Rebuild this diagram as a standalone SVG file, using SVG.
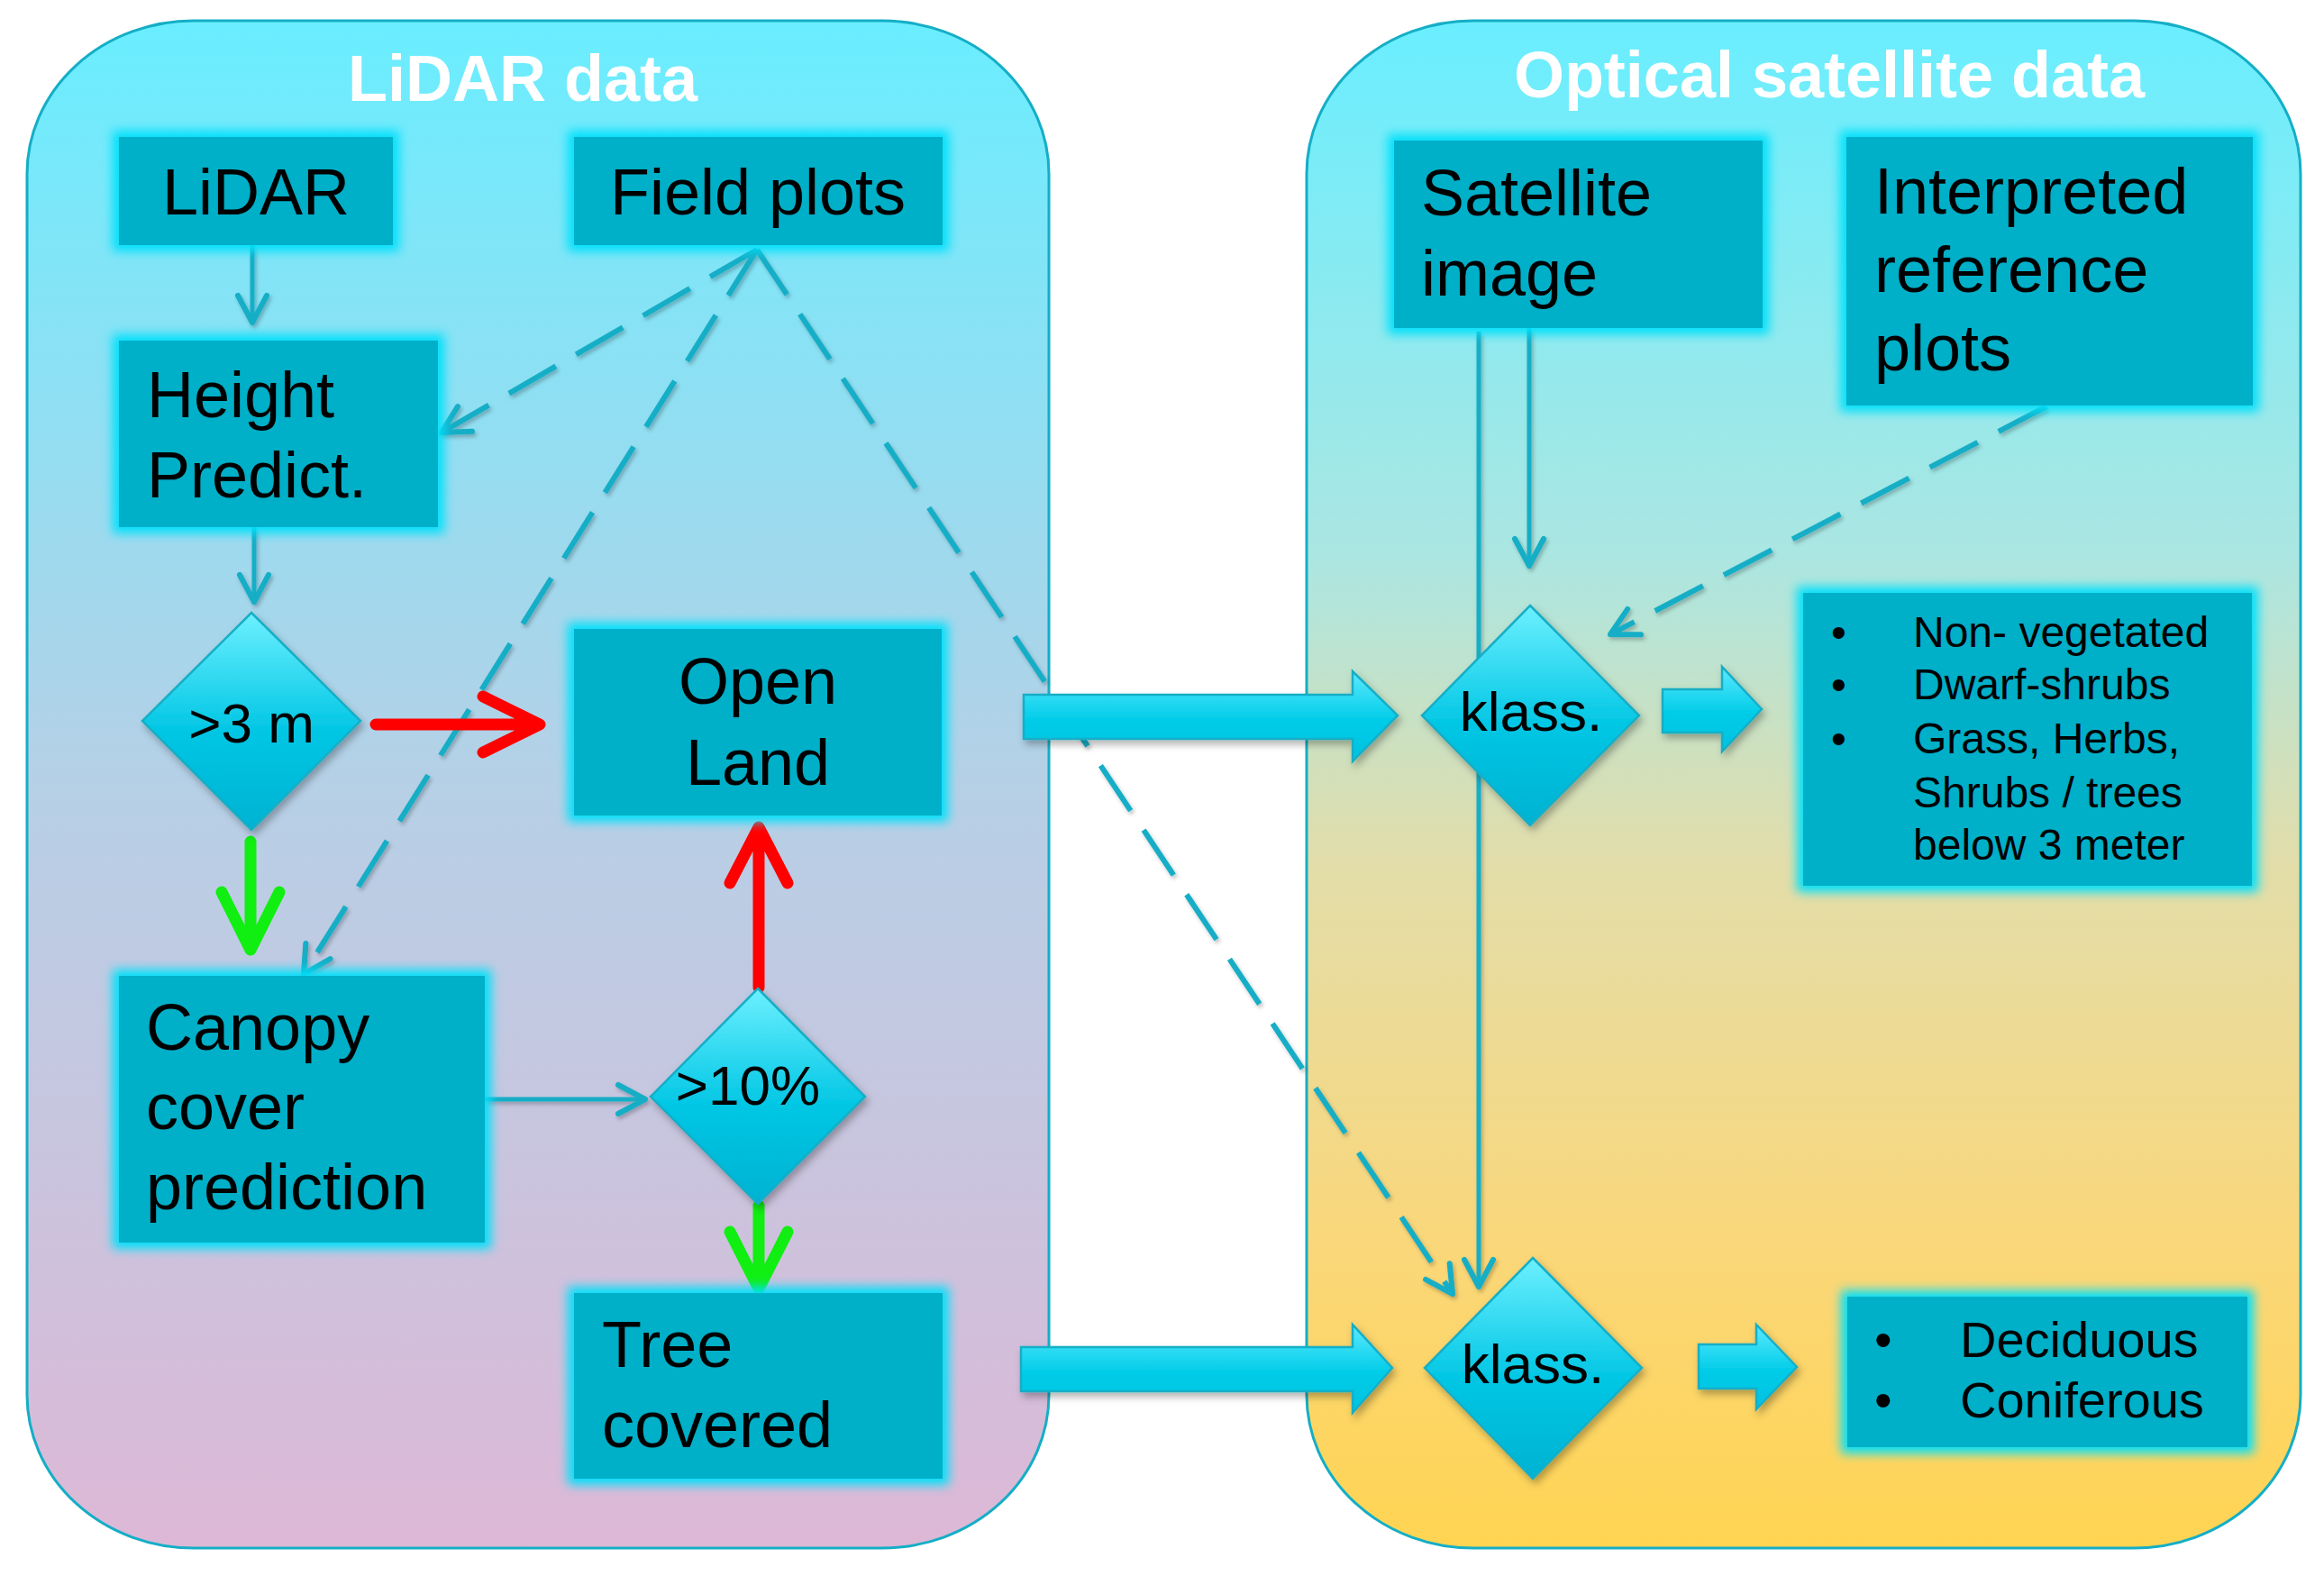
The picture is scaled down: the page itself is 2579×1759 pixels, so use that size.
<svg xmlns="http://www.w3.org/2000/svg" width="2579" height="1759" viewBox="0 0 2579 1759">
<defs>
<style>
.panel{stroke:#14AEC6;stroke-width:3}
.title{font-family:"Liberation Sans",Arial,sans-serif;font-weight:bold;font-size:72px;fill:#fff;text-anchor:middle}
.box{fill:#00AFC8}
.t{font-family:"Liberation Sans",Arial,sans-serif;font-size:72px;fill:#000}
.dt{font-family:"Liberation Sans",Arial,sans-serif;font-size:62px;fill:#000;text-anchor:middle}
.st{font-family:"Liberation Sans",Arial,sans-serif;font-size:48px;fill:#000}
.st2{font-family:"Liberation Sans",Arial,sans-serif;font-size:56px;fill:#000}
.dia{fill:url(#gDia);stroke:#14AEC6;stroke-width:2.5}
.blk{fill:url(#gBlk);stroke:#14AEC6;stroke-width:2.5}
.thin{fill:none;stroke:#14AEC6;stroke-width:5}
.dash{fill:none;stroke:#14AEC6;stroke-width:6;stroke-dasharray:60 26}
.red{fill:none;stroke:#FF0000;stroke-width:13;stroke-linejoin:round;stroke-linecap:round}
.green{fill:none;stroke:#11EE11;stroke-width:13;stroke-linejoin:round;stroke-linecap:round}
</style>
<linearGradient id="gLeft" x1="0" y1="0" x2="0" y2="1">
<stop offset="0" stop-color="#69EEFF"/>
<stop offset="0.5" stop-color="#B6D0E6"/>
<stop offset="1" stop-color="#DDB8D6"/>
</linearGradient>
<linearGradient id="gRight" x1="0" y1="0" x2="0" y2="1">
<stop offset="0" stop-color="#69EEFF"/>
<stop offset="0.35" stop-color="#ABE6E2"/>
<stop offset="0.55" stop-color="#E2DDAA"/>
<stop offset="0.8" stop-color="#FAD77A"/>
<stop offset="1" stop-color="#FFD452"/>
</linearGradient>
<linearGradient id="gDia" x1="0" y1="0" x2="0" y2="1">
<stop offset="0" stop-color="#6CF0FF"/>
<stop offset="0.55" stop-color="#00C6E4"/>
<stop offset="1" stop-color="#00B2D2"/>
</linearGradient>
<linearGradient id="gBlk" x1="0" y1="0" x2="0" y2="1">
<stop offset="0" stop-color="#5CEAFF"/>
<stop offset="0.55" stop-color="#00CCE8"/>
<stop offset="1" stop-color="#00C2E0"/>
</linearGradient>
<filter id="glow" x="-20%" y="-20%" width="140%" height="140%">
<feMorphology in="SourceAlpha" operator="dilate" radius="7" result="d"/>
<feGaussianBlur in="d" stdDeviation="6" result="b"/>
<feFlood flood-color="#00E0FA"/>
<feComposite in2="b" operator="in" result="g"/>
<feMerge><feMergeNode in="g"/><feMergeNode in="SourceGraphic"/></feMerge>
</filter>
<filter id="shadow" x="-20%" y="-20%" width="140%" height="150%">
<feDropShadow dx="3" dy="5" stdDeviation="4" flood-color="#000" flood-opacity="0.3"/>
</filter>
<filter id="lshadow" x="-5%" y="-5%" width="110%" height="110%">
<feDropShadow dx="2" dy="3" stdDeviation="2" flood-color="#000" flood-opacity="0.25"/>
</filter>
<marker id="ah" viewBox="0 0 40 40" refX="36" refY="20" markerWidth="40" markerHeight="40" markerUnits="userSpaceOnUse" orient="auto">
<path d="M6,4 L36,20 L6,36" fill="none" stroke="#14AEC6" stroke-width="6" stroke-linecap="round" stroke-linejoin="round"/>
</marker>
</defs>

<g id="panel-lidar">
<rect class="panel" x="30" y="23" width="1134" height="1695" rx="185" ry="170" fill="url(#gLeft)"/>
<text class="title" x="580" y="112">LiDAR data</text>
</g>
<g id="panel-optical">
<rect class="panel" x="1450" y="23" width="1103" height="1695" rx="185" ry="170" fill="url(#gRight)"/>
<text class="title" x="2030" y="108">Optical satellite data</text>
</g>

<g id="connectors">
<g filter="url(#lshadow)">
<line class="thin" x1="280" y1="272" x2="280" y2="358" marker-end="url(#ah)"/>
<line class="thin" x1="282" y1="585" x2="282" y2="668" marker-end="url(#ah)"/>
<line class="thin" x1="538" y1="1220" x2="716" y2="1220" marker-end="url(#ah)"/>
<line class="thin" x1="1697" y1="364" x2="1697" y2="628" marker-end="url(#ah)"/>
<line class="thin" x1="1641" y1="368" x2="1641" y2="1428" marker-end="url(#ah)"/>
<line class="dash" x1="840" y1="277" x2="490" y2="480" marker-end="url(#ah)"/>
<line class="dash" x1="840" y1="277" x2="337" y2="1081" marker-end="url(#ah)"/>
<line class="dash" x1="840" y1="277" x2="1612" y2="1436" marker-end="url(#ah)"/>
<line class="dash" x1="2271" y1="451" x2="1787" y2="704" marker-end="url(#ah)"/>
</g>
<path class="red" d="M417,804 L597,804 M536,773 L599,804 L536,835"/>
<path class="green" d="M278,934 L278,1052 M246,990 L278,1054 L310,990"/>
<path class="red" d="M842,1096 L842,920 M810,980 L842,918 L874,980"/>
<path class="green" d="M842,1338 L842,1428 M810,1367 L842,1430 L874,1367"/>
<polygon class="blk" filter="url(#shadow)" points="1136,771 1501,771 1501,745 1551,794 1501,845 1501,820 1136,820"/>
<polygon class="blk" filter="url(#shadow)" points="1133,1495 1501,1495 1501,1470 1545,1518 1501,1568 1501,1544 1133,1544"/>
<polygon class="blk" filter="url(#shadow)" points="1845,765 1911,765 1911,740 1955,787 1911,834 1911,813 1845,813"/>
<polygon class="blk" filter="url(#shadow)" points="1885,1492 1949,1492 1949,1470 1994,1517 1949,1564 1949,1541 1885,1541"/>
</g>

<g id="node-lidar">
<rect class="box" filter="url(#glow)" x="132" y="152" width="304" height="120"/>
<text class="t" x="284" y="238" text-anchor="middle">LiDAR</text>
</g>
<g id="node-field-plots">
<rect class="box" filter="url(#glow)" x="637" y="152" width="409" height="120"/>
<text class="t" x="841" y="238" text-anchor="middle">Field plots</text>
</g>
<g id="node-height">
<rect class="box" filter="url(#glow)" x="132" y="378" width="354" height="207"/>
<text class="t" x="163" y="463">Height</text>
<text class="t" x="163" y="552">Predict.</text>
</g>
<g id="node-3m">
<polygon class="dia" filter="url(#shadow)" points="279,680 400,800 279,921 158,800"/>
<text class="dt" x="279" y="824">&gt;3 m</text>
</g>
<g id="node-open-land">
<rect class="box" filter="url(#glow)" x="637" y="698" width="408" height="207"/>
<text class="t" x="841" y="781" text-anchor="middle">Open</text>
<text class="t" x="841" y="871" text-anchor="middle">Land</text>
</g>
<g id="node-canopy">
<rect class="box" filter="url(#glow)" x="132" y="1083" width="406" height="296"/>
<text class="t" x="162" y="1165">Canopy</text>
<text class="t" x="162" y="1253">cover</text>
<text class="t" x="162" y="1342">prediction</text>
</g>
<g id="node-10pct">
<polygon class="dia" filter="url(#shadow)" points="841,1097 960,1217 841,1336 722,1217"/>
<text class="dt" x="830" y="1226">&gt;10%</text>
</g>
<g id="node-tree">
<rect class="box" filter="url(#glow)" x="637" y="1435" width="409" height="206"/>
<text class="t" x="668" y="1517">Tree</text>
<text class="t" x="668" y="1606">covered</text>
</g>
<g id="node-satellite">
<rect class="box" filter="url(#glow)" x="1547" y="156" width="409" height="208"/>
<text class="t" x="1577" y="239">Satellite</text>
<text class="t" x="1577" y="328">image</text>
</g>
<g id="node-interpreted">
<rect class="box" filter="url(#glow)" x="2049" y="152" width="451" height="298"/>
<text class="t" x="2080" y="237">Interpreted</text>
<text class="t" x="2080" y="324">reference</text>
<text class="t" x="2080" y="411">plots</text>
</g>
<g id="node-klass1">
<polygon class="dia" filter="url(#shadow)" points="1698,672 1819,794 1698,916 1578,794"/>
<text class="dt" x="1699" y="811">klass.</text>
</g>
<g id="node-klass2">
<polygon class="dia" filter="url(#shadow)" points="1701,1396 1822,1518 1701,1641 1581,1518"/>
<text class="dt" x="1701" y="1535">klass.</text>
</g>
<g id="node-result1">
<rect class="box" filter="url(#glow)" x="2001" y="658" width="498" height="325"/>
<text class="st" x="2032" y="718">•</text>
<text class="st" x="2032" y="776">•</text>
<text class="st" x="2032" y="836">•</text>
<text class="st" x="2123" y="718">Non- vegetated</text>
<text class="st" x="2123" y="776">Dwarf-shrubs</text>
<text class="st" x="2123" y="836">Grass, Herbs,</text>
<text class="st" x="2123" y="896">Shrubs / trees</text>
<text class="st" x="2123" y="954">below 3 meter</text>
</g>
<g id="node-result2">
<rect class="box" filter="url(#glow)" x="2050" y="1439" width="444" height="167"/>
<text class="st2" x="2080" y="1506">•</text>
<text class="st2" x="2080" y="1573">•</text>
<text class="st2" x="2175" y="1506">Deciduous</text>
<text class="st2" x="2175" y="1573">Coniferous</text>
</g>
</svg>
